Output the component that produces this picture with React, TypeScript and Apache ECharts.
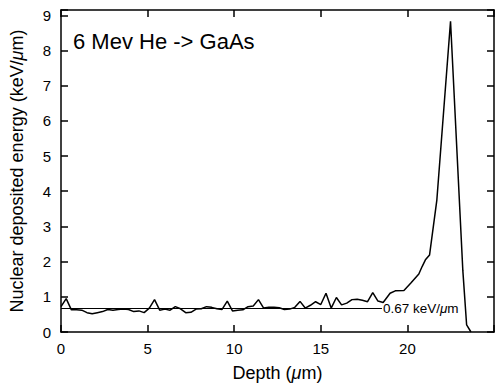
import React, { useEffect, useRef } from "react";
import * as echarts from "echarts";

const depth = [
  0, 0.3, 0.6, 0.9, 1.2, 1.5, 1.8, 2.1, 2.4, 2.7, 3.0, 3.3, 3.6, 3.9, 4.2, 4.5, 4.8,
  5.1, 5.4, 5.7, 6.0, 6.3, 6.6, 6.9, 7.2, 7.5, 7.8, 8.1, 8.4, 8.7, 9.0, 9.3, 9.6,
  9.9, 10.2, 10.5, 10.8, 11.1, 11.4, 11.7, 12.0, 12.3, 12.6, 12.9, 13.2, 13.5, 13.8,
  14.1, 14.4, 14.7, 15.0, 15.3, 15.6, 15.9, 16.2, 16.5, 16.8, 17.1, 17.4, 17.7, 18.0,
  18.3, 18.6, 19.0, 19.3, 19.8, 20.2, 20.66, 20.85, 21.04, 21.28, 21.7, 22.49, 23.2,
  23.42, 23.67,
];
const energy = [
  0.72, 0.95, 0.63, 0.63, 0.62, 0.55, 0.52, 0.55, 0.58, 0.64, 0.62, 0.64, 0.65, 0.64,
  0.58, 0.6, 0.55, 0.68, 0.92, 0.62, 0.65, 0.62, 0.72, 0.66, 0.55, 0.56, 0.65, 0.66,
  0.72, 0.7, 0.66, 0.64, 0.88, 0.6, 0.62, 0.63, 0.72, 0.74, 0.92, 0.68, 0.7, 0.7,
  0.69, 0.64, 0.65, 0.7, 0.87, 0.68, 0.76, 0.86, 0.78, 1.1, 0.68, 0.98, 0.77, 0.82,
  0.92, 0.93, 0.9, 0.86, 1.12, 0.88, 0.84, 1.1, 1.17, 1.18, 1.39, 1.65, 1.86, 2.05,
  2.19, 3.75, 8.83, 1.75, 0.2, 0.0,
];
const refLevel = 0.67;
const refEnd = 18.53;
const xTicks = [0, 5, 10, 15, 20];
const yTicks = [0, 1, 2, 3, 4, 5, 6, 7, 8, 9];

const FONT = "'Liberation Sans', Arial, Helvetica, sans-serif";

export default function App() {
  const ref = useRef<HTMLDivElement>(null);
  useEffect(() => {
    if (!ref.current) return;
    const chart = echarts.init(ref.current, undefined, { renderer: "svg" });
    const axisLine = { show: true, onZero: false, lineStyle: { color: "#000", width: 1.5 } };
    const tick = { show: true, inside: true, length: 7, lineStyle: { color: "#000", width: 1.5 } };
    const common = { type: "value" as const, splitLine: { show: false } };
    chart.setOption({
      animation: false,
      textStyle: { fontFamily: FONT },
      title: {
        text: "6 Mev He -> GaAs",
        left: 68,
        top: 25,
        textStyle: { fontSize: 22, fontWeight: "normal", color: "#000", fontFamily: FONT },
      },
      grid: { left: 57, right: -1, top: 10, bottom: 57 },
      xAxis: [
        {
          ...common,
          min: 0,
          max: 25,
          interval: 5,
          position: "bottom",
          axisLine,
          axisTick: tick,
          axisLabel: {
            color: "#000",
            fontSize: 15,
            margin: 9,
            fontFamily: FONT,
            formatter: (v: number) => (xTicks.includes(v) ? String(v) : ""),
          },
          name: "Depth ({i|μ}m)",
          nameLocation: "middle",
          nameGap: 32,
          nameTextStyle: {
            color: "#000",
            fontSize: 18,
            fontFamily: FONT,
            rich: { i: { fontStyle: "italic", fontSize: 18, color: "#000", fontFamily: FONT } },
          },
        },
        {
          ...common,
          min: 0,
          max: 25,
          interval: 5,
          position: "top",
          axisLine,
          axisTick: tick,
          axisLabel: { show: false },
        },
      ],
      yAxis: [
        {
          ...common,
          min: 0,
          max: 9.15,
          interval: 1,
          position: "left",
          axisLine,
          axisTick: tick,
          axisLabel: {
            color: "#000",
            fontSize: 15,
            margin: 10,
            fontFamily: FONT,
            formatter: (v: number) => (yTicks.includes(v) ? String(v) : ""),
          },
          name: "Nuclear deposited energy (keV/{i|μ}m)",
          nameLocation: "middle",
          nameGap: 35,
          nameTextStyle: {
            color: "#000",
            fontSize: 18,
            fontFamily: FONT,
            rich: { i: { fontStyle: "italic", fontSize: 18, color: "#000", fontFamily: FONT } },
          },
        },
        {
          ...common,
          min: 0,
          max: 9.15,
          interval: 1,
          position: "right",
          axisLine,
          axisTick: tick,
          axisLabel: { show: false },
        },
      ],
      series: [
        {
          type: "line",
          xAxisIndex: 0,
          yAxisIndex: 0,
          data: depth.map((d, i) => [d, energy[i]]),
          showSymbol: false,
          symbol: "none",
          lineStyle: { color: "#000", width: 1.5 },
          markLine: {
            silent: true,
            symbol: "none",
            lineStyle: { color: "#000", width: 1, type: "solid" },
            label: {
              show: true,
              position: "end",
              distance: 1,
              color: "#000",
              fontSize: 13.5,
              fontFamily: FONT,
              formatter: refLevel.toFixed(2) + " keV/{i|μ}m",
              rich: { i: { fontStyle: "italic", fontSize: 13.5, color: "#000", fontFamily: FONT } },
            },
            data: [[{ coord: [0, refLevel] }, { coord: [refEnd, refLevel] }]],
          },
        },
      ],
    });
    return () => chart.dispose();
  }, []);
  return (
    <div
      ref={ref}
      style={{ position: "fixed", left: 0, top: 0, width: 497, height: 389, background: "#fff" }}
    />
  );
}
